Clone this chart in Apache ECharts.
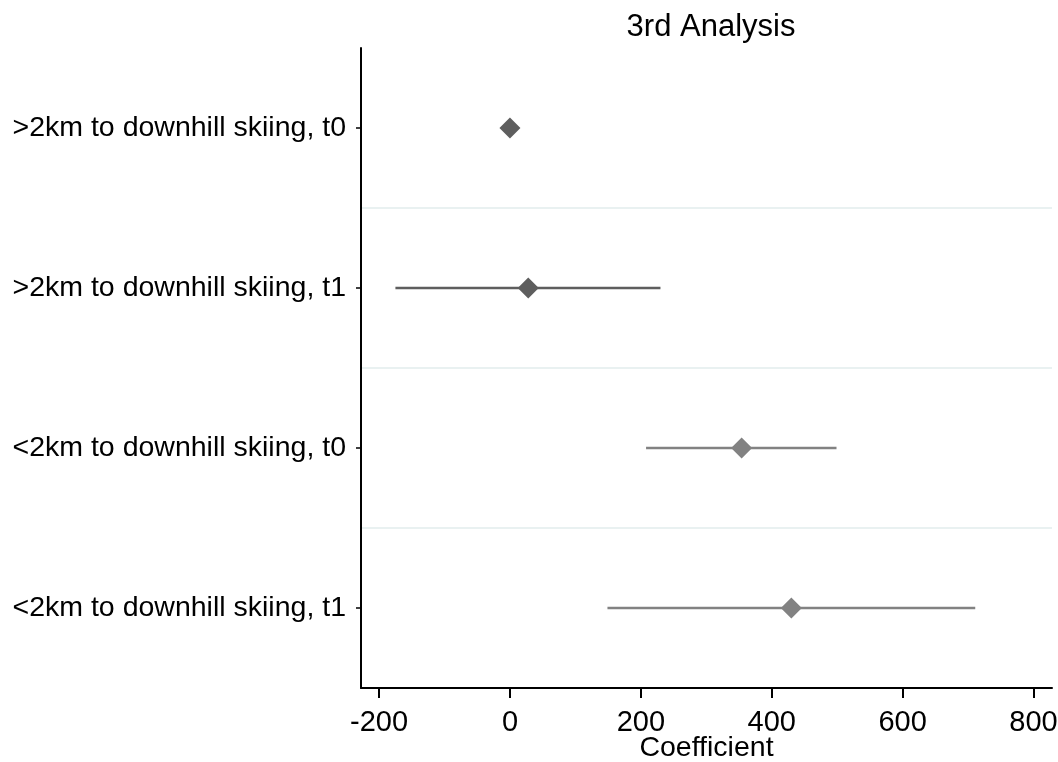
<!DOCTYPE html>
<html>
<head>
<meta charset="utf-8">
<script src="https://cdn.jsdelivr.net/npm/echarts@6/dist/echarts.min.js"></script>
<style>
html,body{margin:0;padding:0;background:#fff;}
#chart{width:1058px;height:762px;}
</style>
</head>
<body>
<div id="chart"></div>
<script>
var categories = ['>2km to downhill skiing, t0', '>2km to downhill skiing, t1', '<2km to downhill skiing, t0', '<2km to downhill skiing, t1'];
var coef = [0, 28, 354, 430];
var ciLow = [null, -175, 208, 149];
var ciHigh = [null, 230, 499, 711];
var markColors = ['#5e5e5e', '#5e5e5e', '#828282', '#828282'];
var xTicks = [-200, 0, 200, 400, 600, 800];

var FONT = '"Liberation Sans", Arial, sans-serif';
var chart = echarts.init(document.getElementById('chart'), null, {renderer: 'canvas'});

var ciData = [];
for (var i = 0; i < categories.length; i++) {
  if (ciLow[i] !== null) ciData.push([ciLow[i], ciHigh[i], i]);
}
var ptData = coef.map(function (v, i) { return {value: [v, i], itemStyle: {color: markColors[i], opacity: 1}}; });

chart.setOption({
  animation: false,
  backgroundColor: '#ffffff',
  title: {
    text: '3rd Analysis', left: 706, top: 7, textAlign: 'center',
    textStyle: {fontFamily: FONT, fontSize: 31, fontWeight: 'normal', color: '#000'}
  },
  grid: {left: 361, right: 6, top: 48, bottom: 74, containLabel: false, outerBoundsMode: 'none'},
  xAxis: {
    type: 'value', min: -227.6, max: 828.3,
    name: 'Coefficient', nameLocation: 'middle', nameGap: 46, nameMoveOverlap: false,
    nameTextStyle: {fontFamily: FONT, fontSize: 28.5, color: '#000'},
    axisLine: {show: true, onZero: false, lineStyle: {color: '#000', width: 2}},
    axisTick: {show: true, length: 10, lineStyle: {color: '#000', width: 2}, customValues: xTicks},
    axisLabel: {fontFamily: FONT, fontSize: 29, color: '#000', margin: 20, customValues: xTicks},
    splitLine: {show: false}
  },
  yAxis: {
    type: 'category', data: categories, inverse: true,
    axisLine: {show: true, onZero: false, lineStyle: {color: '#000', width: 2}},
    axisTick: {show: true, length: 5, alignWithLabel: true, lineStyle: {color: '#000', width: 1.5}},
    axisLabel: {fontFamily: FONT, fontSize: 28.5, color: '#000', margin: 15},
    splitLine: {show: true, interval: function (idx) { return idx > 0; }, lineStyle: {color: '#e9f1f1', width: 2}}
  },
  series: [
    {
      type: 'custom',
      data: ciData,
      encode: {x: [0, 1], y: 2},
      renderItem: function (params, api) {
        var idx = api.value(2);
        var p1 = api.coord([api.value(0), idx]);
        var p2 = api.coord([api.value(1), idx]);
        return {
          type: 'line',
          shape: {x1: p1[0], y1: p1[1], x2: p2[0], y2: p2[1]},
          style: {stroke: markColors[idx], lineWidth: 2.6}
        };
      },
      z: 2
    },
    {
      type: 'scatter',
      data: ptData,
      symbol: 'diamond',
      symbolSize: [21, 21],
      itemStyle: {opacity: 1},
      z: 3
    }
  ]
});
</script>
</body>
</html>
